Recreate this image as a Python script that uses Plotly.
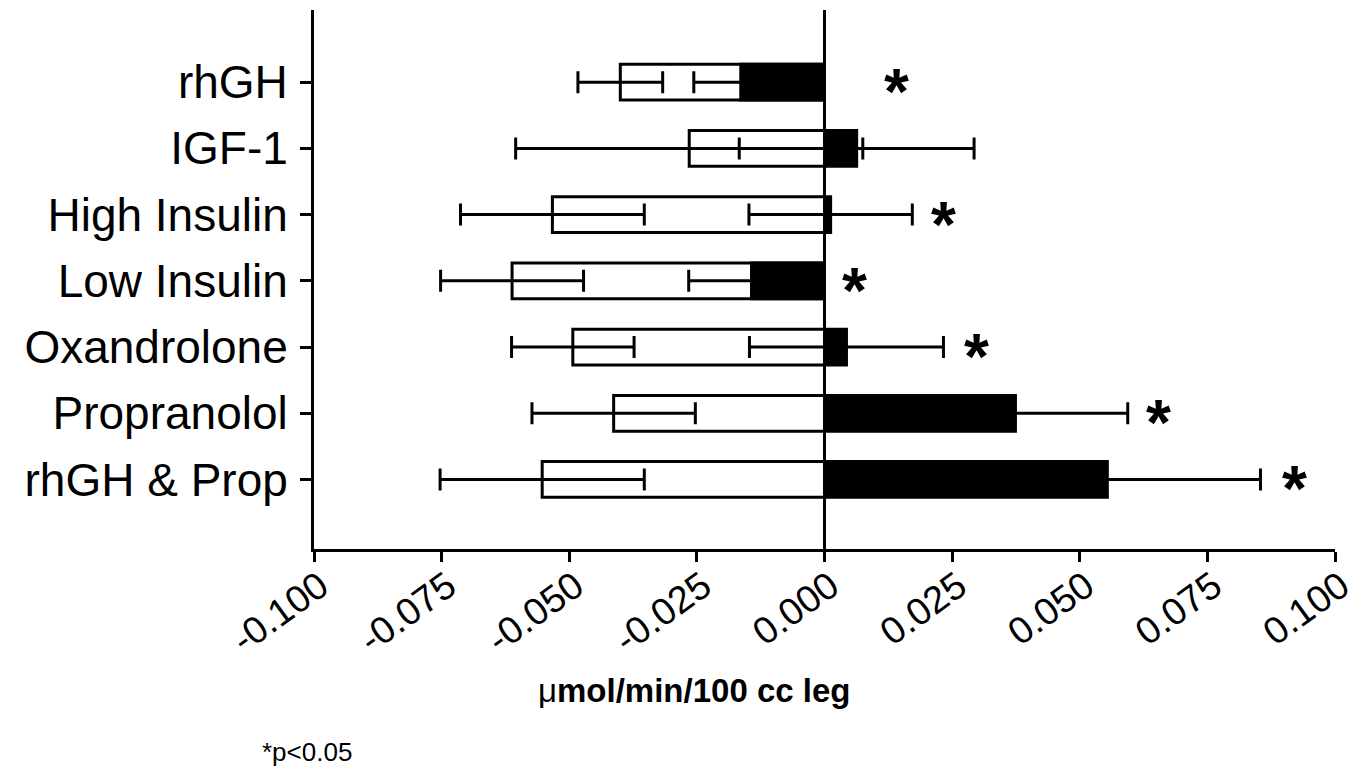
import plotly.graph_objects as go

categories = ["rhGH", "IGF-1", "High Insulin", "Low Insulin", "Oxandrolone", "Propranolol", "rhGH & Prop"]

open_values = [-0.0400, -0.0265, -0.0533, -0.0612, -0.0493, -0.0413, -0.0553]
open_errors = [0.0083, 0.0340, 0.0180, 0.0140, 0.0120, 0.0160, 0.0200]

filled_values = [-0.0164, 0.0063, 0.0012, -0.0143, 0.0043, 0.0374, 0.0554]
filled_errors = [0.0092, 0.0230, 0.0160, 0.0123, 0.0190, 0.0220, 0.0300]

star_x = [0.0141, None, 0.0233, 0.0059, 0.0297, 0.0655, 0.0920]
star_text = ["*", "", "*", "*", "*", "*", "*"]

x_tick_values = [-0.100, -0.075, -0.050, -0.025, 0.000, 0.025, 0.050, 0.075, 0.100]
x_tick_labels = ["-0.100", "-0.075", "-0.050", "-0.025", "0.000", "0.025", "0.050", "0.075", "0.100"]

x_title = "\u03bc<b>mol/min/100 cc leg</b>"
footnote = "*p<0.05"

FONT = "Liberation Sans, Arial, sans-serif"

fig = go.Figure()
fig.add_trace(go.Bar(
    y=categories, x=open_values, orientation="h", width=0.54,
    marker=dict(color="white", line=dict(color="black", width=3)),
    error_x=dict(type="data", array=open_errors, visible=True, color="black", thickness=3, width=11),
    showlegend=False,
))
fig.add_trace(go.Bar(
    y=categories, x=filled_values, orientation="h", width=0.54,
    marker=dict(color="black", line=dict(color="black", width=3)),
    error_x=dict(type="data", array=filled_errors, visible=True, color="black", thickness=3, width=11),
    showlegend=False,
))

for cat, sx, st in zip(categories, star_x, star_text):
    if sx is None or not st:
        continue
    fig.add_annotation(x=sx, y=cat, xref="x", yref="y", text="<b>" + st + "</b>", showarrow=False,
                       font=dict(family=FONT, size=64, color="black"),
                       xanchor="center", yanchor="middle", yshift=-10)

fig.add_annotation(x=0.372, y=-0.262, xref="paper", yref="paper", text=x_title, showarrow=False,
                   font=dict(family=FONT, size=33, color="black"), xanchor="center", yanchor="middle")
fig.add_annotation(x=-0.007, y=-0.377, xref="paper", yref="paper", text=footnote, showarrow=False,
                   font=dict(family=FONT, size=26, color="black"), xanchor="center", yanchor="middle")

fig.update_layout(
    width=1371, height=781,
    margin=dict(l=306, r=44, t=2, b=240),
    paper_bgcolor="white", plot_bgcolor="white",
    barmode="overlay",
    font=dict(family=FONT, color="black"),
    xaxis=dict(
        range=[-0.1, 0.1], tickvals=x_tick_values, ticktext=x_tick_labels,
        tickangle=-36, tickfont=dict(family=FONT, size=38, color="black"),
        ticks="outside", ticklen=10, tickwidth=3, tickcolor="black",
        ticklabelstandoff=-13, ticklabelshift=6,
        showline=True, linecolor="black", linewidth=3,
        showgrid=False, zeroline=True, zerolinecolor="black", zerolinewidth=3,
    ),
    yaxis=dict(
        type="category", categoryarray=categories, categoryorder="array",
        range=[7.05, -1.09],
        tickfont=dict(family=FONT, size=46, color="black"),
        ticks="outside", ticklen=11, tickwidth=3, tickcolor="black",
        ticklabelstandoff=3,
        showline=True, linecolor="black", linewidth=3,
        showgrid=False, zeroline=False,
    ),
)

fig.write_html("out.html")
